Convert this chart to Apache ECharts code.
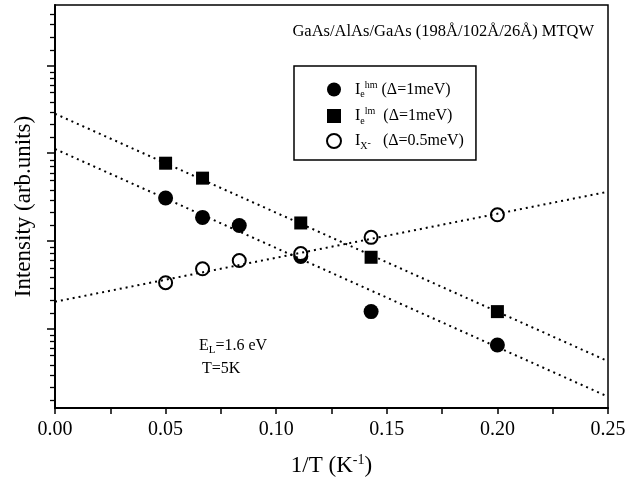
<!DOCTYPE html>
<html><head><meta charset="utf-8">
<script src="https://cdn.jsdelivr.net/npm/echarts@6/dist/echarts.min.js"></script>
<style>html,body{margin:0;padding:0;background:#fff}#c{width:632px;height:491px}</style>
</head><body><div id="c"></div>
<script>
// ---- data ----
const hmX = [0.05, 0.0667, 0.0833, 0.1111, 0.1429, 0.20];
const hmValues = [30.6, 18.4, 14.9, 6.58, 1.55, 0.645];
const lmX = [0.05, 0.0667, 0.1111, 0.1429, 0.20];
const lmValues = [76.4, 51.6, 15.9, 6.46, 1.55];
const xmX = [0.05, 0.0667, 0.0833, 0.1111, 0.1429, 0.20];
const xmValues = [3.31, 4.77, 5.93, 7.12, 10.9, 19.7];
const fitX = [0, 0.25];
const fitHm = [111, 0.166];
const fitLm = [280, 0.421];
const fitXm = [2.01, 36.1];
const xTicks = [0, 0.05, 0.10, 0.15, 0.20, 0.25];
const yMajorTicks = [1, 10, 100, 1000];
const yMinorMultipliers = [1.5, 2.1, 2.9, 3.8, 4.9, 5.9, 7.1, 8.3];
const yDecades = [0.1, 1, 10, 100, 1000];

const Y_MIN = 0.1233, Y_MAX = 4870;
const FONT = '"Liberation Serif", "DejaVu Serif", serif';

const yMinor = [];
yDecades.forEach(d => yMinorMultipliers.forEach(m => { const v = d * m; if (v > Y_MIN && v < Y_MAX) yMinor.push(v); }));

const pairs = (xs, ys) => xs.map((x, i) => [x, ys[i]]);

const chart = echarts.init(document.getElementById('c'), null, {renderer: 'canvas'});
const legendRich = {
  sub: {fontSize: 10, fontFamily: FONT, color: '#000', padding: [10, 0, 0, 0]},
  sup: {fontSize: 10, fontFamily: FONT, color: '#000', padding: [0, 0, 9, 0]},
  subsup: {fontSize: 10, fontFamily: FONT, color: '#000', padding: [4, 0, 0, 0]},
  n: {fontSize: 16, fontFamily: FONT, color: '#000'}
};
const names = ['hm', 'lm', 'xm'];
const legendText = {
  hm: '{n|I}{sub|e}{sup|hm}{n| (Δ=1meV)}',
  lm: '{n|I}{sub|e}{sup|lm}{n|  (Δ=1meV)}',
  xm: '{n|I}{sub|X}{subsup|-}{n|   (Δ=0.5meV)}'
};

const option = {
  animation: false,
  backgroundColor: '#fff',
  title: [
    {text: 'GaAs/AlAs/GaAs (198Å/102Å/26Å) MTQW', right: 33, top: 18,
     textStyle: {fontFamily: FONT, fontSize: 16.5, fontWeight: 'normal', color: '#000'}},
    {text: '{n|E}{sub|L}{n|=1.6 eV}', left: 194, top: 331,
     textStyle: {fontWeight: 'normal', rich: {n: {fontFamily: FONT, fontSize: 16, fontWeight: 'normal', color: '#000'},
       sub: {fontFamily: FONT, fontSize: 11, fontWeight: 'normal', color: '#000', padding: [9, 0, 0, 0]}}}},
    {text: 'T=5K', left: 197, top: 356,
     textStyle: {fontFamily: FONT, fontSize: 16, fontWeight: 'normal', color: '#000'}}
  ],
  legend: {
    data: names, orient: 'vertical', left: 294, top: 66,
    padding: [14, 12, 9, 32], itemGap: 7, itemWidth: 14, itemHeight: 14,
    borderColor: '#000', borderWidth: 1.5,
    formatter: n => legendText[n],
    textStyle: {rich: legendRich, padding: [0, 0, 0, 9]}
  },
  grid: {left: 55, right: 24, top: 5, bottom: 83, show: true, borderColor: '#000', borderWidth: 1.5},
  xAxis: {
    type: 'value', min: 0, max: 0.25, interval: 0.05,
    axisLine: {lineStyle: {color: '#000', width: 2}},
    axisTick: {show: true, inside: false, length: 6, lineStyle: {color: '#000', width: 1.5}},
    minorTick: {show: true, splitNumber: 2, length: 6, lineStyle: {color: '#000', width: 1.5}},
    splitLine: {show: false},
    axisLabel: {margin: 12, fontFamily: FONT, fontSize: 20, color: '#000',
      formatter: v => v.toFixed(2)},
    name: '{n|1/T (K}{sup|-1}{n|)}', nameLocation: 'middle', nameGap: 45,
    nameTextStyle: {rich: {n: {fontFamily: FONT, fontSize: 23, color: '#000'},
      sup: {fontFamily: FONT, fontSize: 14, color: '#000', padding: [0, 0, 12, 0]}}}
  },
  yAxis: [{
    type: 'log', min: Y_MIN, max: Y_MAX,
    axisLine: {show: true, lineStyle: {color: '#000', width: 2}},
    axisTick: {show: true, inside: false, length: 8, customValues: yMajorTicks, lineStyle: {color: '#000', width: 1.5}},
    axisLabel: {show: false},
    splitLine: {show: false},
    name: 'Intensity (arb.units)', nameLocation: 'middle', nameGap: 20, nameRotate: 90,
    nameTextStyle: {fontFamily: FONT, fontSize: 23, color: '#000'}
  }, {
    type: 'log', min: Y_MIN, max: Y_MAX, position: 'left',
    axisLine: {show: false},
    axisTick: {show: true, inside: false, length: 5, customValues: yMinor, lineStyle: {color: '#000', width: 1.3}},
    axisLabel: {show: false},
    splitLine: {show: false}
  }],
  series: [
    {name: 'hm', type: 'scatter', symbol: 'circle', symbolSize: 15, z: 2,
     itemStyle: {color: '#000', opacity: 1}, data: pairs(hmX, hmValues)},
    {name: 'lm', type: 'scatter', symbol: 'rect', symbolSize: 13, z: 2,
     itemStyle: {color: '#000', opacity: 1}, data: pairs(lmX, lmValues)},
    {name: 'xm', type: 'scatter', symbol: 'circle', symbolSize: 13, z: 3,
     itemStyle: {color: '#fff', borderColor: '#000', borderWidth: 2, opacity: 1}, data: pairs(xmX, xmValues)},
    {name: 'fitLm', type: 'line', silent: true, symbol: 'none', z: 4,
     lineStyle: {color: '#000', width: 2, type: [2, 4]}, data: pairs(fitX, fitLm)},
    {name: 'fitHm', type: 'line', silent: true, symbol: 'none', z: 4,
     lineStyle: {color: '#000', width: 2, type: [2, 4]}, data: pairs(fitX, fitHm)},
    {name: 'fitXm', type: 'line', silent: true, symbol: 'none', z: 4,
     lineStyle: {color: '#000', width: 2, type: [2, 4]}, data: pairs(fitX, fitXm)}
  ]
};
chart.setOption(option);
</script></body></html>
